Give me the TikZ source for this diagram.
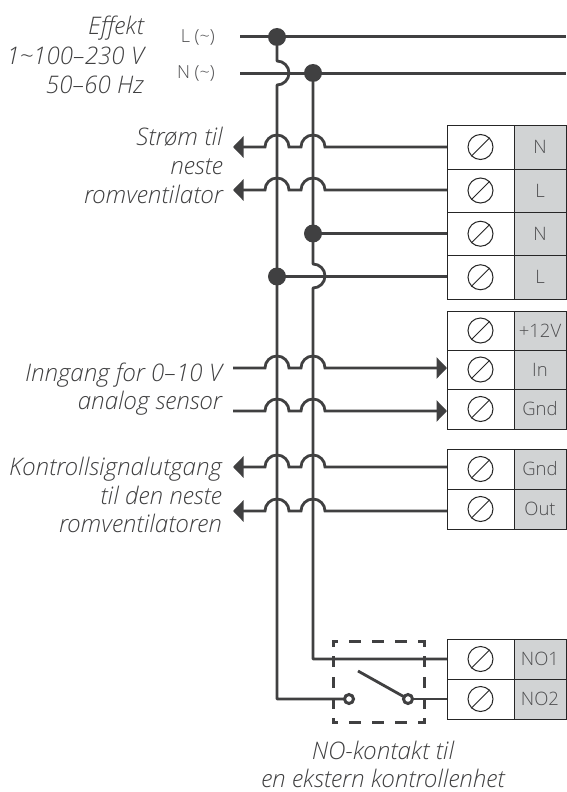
\documentclass[tikz,border=0pt]{standalone}
\usepackage{fontspec}
\setmainfont{Open Sans}[UprightFont=* Light,ItalicFont=* Light Italic]
\definecolor{wire}{HTML}{404041}
\definecolor{lab}{HTML}{4D4D4F}
\definecolor{cellg}{HTML}{D1D3D4}
\usetikzlibrary{arrows.meta}
\tikzset{
  wireln/.style={draw=wire,line width=3pt},
  wirethin/.style={draw=wire,line width=2.8pt},
  dotj/.style={circle,fill=wire,minimum size=18pt,inner sep=0pt},
  caption/.style={font=\itshape\fontsize{24.2}{24.2}\selectfont,text=wire,inner sep=0pt},
  tagsm/.style={font=\fontsize{18}{18}\selectfont,text=lab,inner sep=0pt,anchor=east},
  termtxt/.style={font=\fontsize{18.5}{18.5}\selectfont,text=lab,inner sep=0pt},
  cellbox/.style={draw=black!85,line width=1pt},
  screwc/.style={circle,draw=black!85,line width=1pt,minimum size=25pt,inner sep=0pt},
  contact/.style={circle,draw=wire,fill=white,line width=3pt,minimum size=9pt,inner sep=0pt},
  arrL/.style={-{Triangle[length=10.5pt,width=21pt]}},
  dashh/.style={draw=wire,line width=3pt,line cap=rect,dash pattern=on 8.7pt off 14.3pt,dash phase=5.2pt},
  dashv/.style={draw=wire,line width=3pt,line cap=rect,dash pattern=on 8pt off 12.7pt,dash phase=4pt},
}
\newcommand{\termrow}[4]{% name, ytop, ybot, label
  \filldraw[cellbox,fill=white] (447,#2) rectangle (514,#3);
  \filldraw[cellbox,fill=cellg] (514,#2) rectangle (566,#3);
  \node[screwc] (#1s) at (480.5,{(#2+#3)/2}) {};
  \draw[black!85,line width=1pt] (#1s.225) -- (#1s.45);
  \node[termtxt] (#1t) at (540,{(#2+#3)/2}) {#4};
  \coordinate (#1) at (447,{(#2+#3)/2});
}
\newcommand{\hopline}[2]{% y, arrow opts (right to left)
  \draw[wirethin,#2] (447,#1) -- (325,#1) arc[start angle=0,end angle=-180,radius=12] -- (289,#1) arc[start angle=0,end angle=-180,radius=12] -- (233,#1);
}
\newcommand{\hoplineR}[1]{% y (left to right)
  \draw[wirethin,arrL] (233,#1) -- (265,#1) arc[start angle=180,end angle=360,radius=12] -- (301,#1) arc[start angle=180,end angle=360,radius=12] -- (447,#1);
}
\begin{document}
\begin{tikzpicture}[x=1pt,y=-1pt]
\useasboundingbox (0,0) rectangle (566,792);
\fill[white] (0,0) rectangle (566,792);
% terminals
\termrow{ta}{125}{169}{N}
\termrow{tb}{169}{212}{L}
\termrow{tc}{212}{255.5}{N}
\termrow{td}{255.5}{299}{L}
\termrow{te}{311}{350}{+12V}
\termrow{tf}{350}{389}{In}
\termrow{tg}{389}{429}{Gnd}
\termrow{th}{449}{489}{Gnd}
\termrow{ti}{489}{529}{Out}
\termrow{tj}{639}{679}{NO1}
\termrow{tk}{679}{719}{NO2}
% mains
\coordinate (Ls) at (240,37); \coordinate (Le) at (566,37);
\coordinate (Ns) at (240,73); \coordinate (Ne) at (566,73);
\draw[wireln] (Ls) -- (Le);
\draw[wireln] (Ns) -- (Ne);
\node[dotj] (jL) at (277,37) {};
\node[dotj] (jN) at (313,73) {};
% verticals with hops
\coordinate (bL) at (277,699);
\coordinate (bN) at (313,659);
\draw[wirethin,line join=round] (jL) -- (277,61) arc[start angle=-90,end angle=90,radius=12] -- (bL) -- (349,699);
\draw[wirethin,line join=round] (jN) -- (313,264) arc[start angle=-90,end angle=90,radius=12] -- (bN) -- (447,659);
\node[dotj] (jc) at (313,233.5) {};
\node[dotj] (jd) at (277,276.5) {};
\draw[wirethin] (jc) -- (447,233.5);
\draw[wirethin] (jd) -- (447,276.5);
% hopping lines
\hopline{147}{arrL}
\hopline{190}{arrL}
\hopline{467}{arrL}
\hopline{511}{arrL}
\hoplineR{368}
\hoplineR{411}
% switch
\coordinate (da) at (333,641); \coordinate (db) at (424,641);
\coordinate (dc) at (424,722); \coordinate (dd) at (333,722);
\draw[dashh] (da) -- (db);
\draw[dashh] (dd) -- (dc);
\draw[dashv] (da) -- (dd);
\draw[dashv] (db) -- (dc);
\coordinate (sw) at (358,671);
\draw[wirethin] (408,699) -- (sw);
\draw[wirethin] (408,699) -- (447,699);
\node[contact] (c1) at (349,699) {};
\node[contact] (c2) at (408,699) {};
% small labels
\node[tagsm] (lL) at (215,37) {L (\char"7E\relax)};
\node[tagsm] (lN) at (215,73) {N (\char"7E\relax)};
% captions
\node[caption,anchor=base east] (c1a) at (144,35) {Effekt};
\node[caption,anchor=base east] (c1b) at (144,64) {1\char"7E\relax 100–230 V};
\node[caption,anchor=base east] (c1c) at (144,93) {50–60 Hz};
\node[caption,anchor=base east] (c2a) at (223,145) {Strøm til};
\node[caption,anchor=base east] (c2b) at (223,174) {neste};
\node[caption,anchor=base east] (c2c) at (223,203) {romventilator};
\node[caption,anchor=base east] (c3a) at (222,381) {Inngang for 0–10 V};
\node[caption,anchor=base east] (c3b) at (222,409) {analog sensor};
\node[caption,anchor=base east] (c4a) at (222,475) {Kontrollsignalutgang};
\node[caption,anchor=base east] (c4b) at (222,504) {til den neste};
\node[caption,anchor=base east] (c4c) at (222,532) {romventilatoren};
\node[caption,anchor=base] (c5a) at (383,759) {NO-kontakt til};
\node[caption,anchor=base] (c5b) at (383,787) {en ekstern kontrollenhet};
\end{tikzpicture}
\end{document}
